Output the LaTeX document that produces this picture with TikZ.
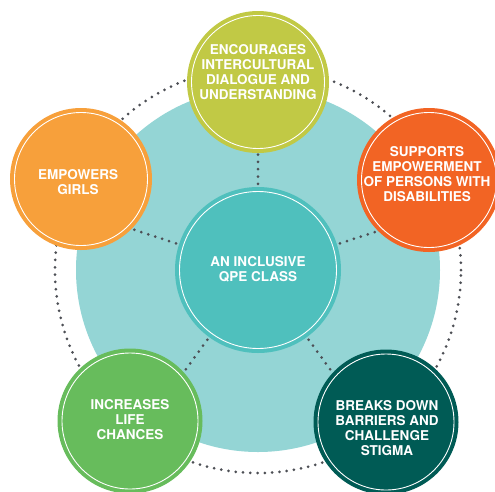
\documentclass[tikz,border=0pt]{standalone}
\usepackage{fontspec}
\setmainfont{TeX Gyre Heros}
\definecolor{halo}{HTML}{94D5D5}
\definecolor{core}{HTML}{4FC0BD}
\definecolor{lime}{HTML}{C1C945}
\definecolor{flame}{HTML}{F26424}
\definecolor{amber}{HTML}{F7A03B}
\definecolor{leaf}{HTML}{67BC5C}
\definecolor{pine}{HTML}{005B55}
\definecolor{dotgrey}{HTML}{4D4F55}
\begin{document}
\begin{tikzpicture}[x=1pt,y=-1pt,
  bubble/.style 2 args={circle, fill=#1, minimum size={#2*2pt}, inner sep=0pt,
    path picture={\draw[white,line width=0.9pt]
      (path picture bounding box.center) circle[radius={#2pt-4.5pt}];}},
  btext/.style={text=white, align=center, inner sep=0pt,
    font=\fontsize{13.5}{15}\selectfont\bfseries},
  dotline/.style={dotgrey, line width=3pt, line cap=round,
    dash pattern=on 0pt off 7.3pt}]
\useasboundingbox (0,0) rectangle (495,491);

% light backdrop disc and the dotted ring around it
\node[circle, fill=halo, minimum size=364pt, inner sep=0pt] (disc) at (258,270) {};
\draw[dotline] (disc.center) circle[radius=203pt];

% free ends of the spokes, hidden under the outer bubbles
\coordinate (s1) at (258,75);
\coordinate (s2) at (72.5,209.7);
\coordinate (s3) at (143.4,427.8);
\coordinate (s4) at (372.6,427.8);
\coordinate (s5) at (443.5,209.7);

% central bubble and spokes
\node[bubble={core}{83}] (hub) at (258,270) {};
\foreach \s in {s1,s2,s3,s4,s5}
  \draw[dotline, shorten <=3pt] (hub) -- (\s);

% outer bubbles
\node[bubble={lime}{71}]  (top)   at (258,82) {};
\node[bubble={amber}{71}] (left)  at (81,179) {};
\node[bubble={flame}{72}] (right) at (429,180) {};
\node[bubble={leaf}{72.5}] (bl)   at (130,421) {};
\node[bubble={pine}{72.5}] (br)   at (386,422) {};

% captions
\node[btext] (thub)   at (258,269)   {AN INCLUSIVE\\QPE CLASS};
\node[btext] (ttop)   at (258,72.5)  {ENCOURAGES\\INTERCULTURAL\\DIALOGUE AND\\UNDERSTANDING};
\node[btext] (tleft)  at (78,182.5)  {EMPOWERS\\GIRLS};
\node[btext] (tright) at (427,174.5) {SUPPORTS\\EMPOWERMENT\\OF PERSONS WITH\\DISABILITIES};
\node[btext] (tbl)    at (130,420)   {INCREASES\\LIFE\\CHANCES};
\node[btext] (tbr)    at (387,428.5) {BREAKS DOWN\\BARRIERS AND\\CHALLENGE\\STIGMA};
\end{tikzpicture}
\end{document}
